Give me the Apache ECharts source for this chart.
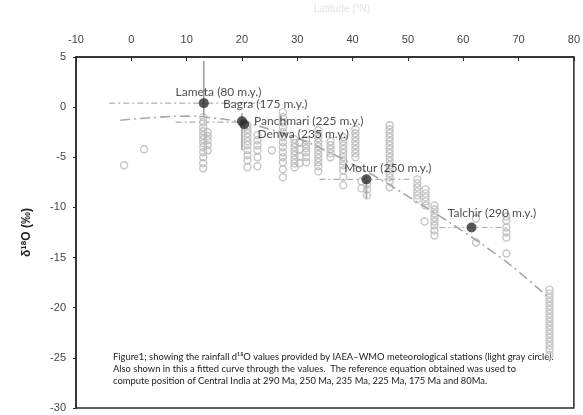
<!DOCTYPE html>
<html><head><meta charset="utf-8">
<script src="https://cdn.jsdelivr.net/npm/echarts@6/dist/echarts.min.js"></script>
<style>html,body{margin:0;padding:0;background:#fff}#c{width:583px;height:415px}</style>
</head><body><div id="c"></div>
<script>
// x-axis ticks (top axis) and y-axis ticks
const xTicks = [-10, 0, 10, 20, 30, 40, 50, 60, 70, 80];
const yTicks = [5, 0, -5, -10, -15, -20, -25, -30];

// IAEA-WMO station values (light gray circles): [x, d18O]
const stationPoints = [
  [-1.3,-5.8],[2.3,-4.2],
  [13.0,-1.0],[13.0,-1.5],[13.0,-2.0],[13.0,-2.4],[13.0,-2.8],[13.0,-3.2],[13.0,-3.6],[13.0,-4.0],[13.0,-4.5],[13.0,-5.0],[13.0,-5.6],[13.0,-6.1],
  [13.8,-2.5],[13.8,-2.9],[13.8,-3.3],[13.8,-3.8],[13.8,-4.3],
  [21.0,-1.8],[21.0,-2.2],[21.0,-2.6],[21.0,-3.0],[21.0,-3.4],[21.0,-3.8],[21.0,-4.3],[21.0,-4.8],[21.0,-5.3],[21.0,-6.0],
  [22.8,-2.8],[22.8,-3.3],[22.8,-3.8],[22.8,-4.3],[22.8,-5.0],[22.8,-5.9],
  [25.4,-4.3],
  [27.4,-0.5],[27.4,-1.0],[27.4,-1.5],[27.4,-2.0],[27.4,-2.5],[27.4,-3.0],[27.4,-3.5],[27.4,-4.0],[27.4,-4.5],[27.4,-5.0],[27.4,-5.5],[27.4,-6.2],[27.4,-7.0],
  [29.5,-3.2],[29.5,-3.6],[29.5,-4.0],[29.5,-4.4],[29.5,-4.8],[29.5,-5.2],[29.5,-5.6],[29.5,-6.0],
  [30.4,-3.5],[30.4,-4.2],[30.4,-4.9],[30.4,-5.6],
  [31.6,-3.3],[31.6,-3.7],[31.6,-4.1],[31.6,-4.5],[31.6,-5.0],[31.6,-5.5],
  [33.8,-2.3],[33.8,-2.7],[33.8,-3.1],[33.8,-3.5],[33.8,-3.9],[33.8,-4.3],[33.8,-4.7],[33.8,-5.1],[33.8,-5.5],[33.8,-5.9],[33.8,-6.4],
  [36.0,-3.4],[36.0,-3.8],[36.0,-4.2],[36.0,-4.6],[36.0,-5.0],
  [38.3,-3.0],[38.3,-3.4],[38.3,-3.8],[38.3,-4.2],[38.3,-4.6],[38.3,-5.0],[38.3,-5.4],[38.3,-5.8],[38.3,-6.3],[38.3,-7.0],[38.3,-7.8],
  [40.5,-2.2],[40.5,-2.6],[40.5,-3.0],[40.5,-3.4],[40.5,-3.8],[40.5,-4.2],[40.5,-4.6],[40.5,-5.0],
  [41.6,-7.4],[41.6,-8.1],
  [42.6,-7.7],[42.6,-8.2],[42.6,-8.8],
  [46.7,-1.8],[46.7,-2.2],[46.7,-2.6],[46.7,-3.0],[46.7,-3.4],[46.7,-3.8],[46.7,-4.2],[46.7,-4.6],[46.7,-5.0],[46.7,-5.4],[46.7,-5.8],[46.7,-6.2],[46.7,-6.6],[46.7,-7.0],[46.7,-7.4],[46.7,-8.0],
  [51.7,-7.2],[51.7,-7.6],[51.7,-8.0],[51.7,-8.4],[51.7,-8.8],[51.7,-9.2],
  [53.2,-8.2],[53.2,-8.6],[53.2,-9.0],[53.2,-9.4],[53.2,-9.8],
  [53.0,-11.4],
  [54.8,-9.8],[54.8,-10.2],[54.8,-10.6],[54.8,-11.0],[54.8,-11.4],[54.8,-11.8],[54.8,-12.3],[54.8,-12.8],
  [62.3,-11.1],[62.3,-13.5],
  [67.8,-10.9],[67.8,-11.3],[67.8,-12.0],[67.8,-12.5],[67.8,-13.0],[67.8,-14.6],
  [75.6,-18.2],[75.6,-18.6],[75.6,-19.0],[75.6,-19.4],[75.6,-19.8],[75.6,-20.2],[75.6,-20.6],[75.6,-21.0],[75.6,-21.4],[75.6,-21.8],[75.6,-22.2],[75.6,-22.6],[75.6,-23.0],[75.6,-23.4],[75.6,-23.8],[75.6,-24.2],[75.6,-24.7]
];

// fitted curve through the values
const fitX = [-2, 5, 10, 15, 20, 25, 30, 35, 40, 45, 50, 55, 60, 65, 70, 75];
const fitY = [-1.3, -1.0, -0.9, -1.1, -1.5, -2.2, -3.1, -4.3, -5.7, -7.2, -8.9, -10.6, -12.4, -14.3, -16.4, -18.8];

// computed positions of Central India
const siteNames = ['Lameta', 'Bagra', 'Panchmari', 'Motur', 'Talchir'];
const siteX = [13.1, 20.0, 20.4, 42.5, 61.5];
const siteY = [0.4, -1.4, -1.7, -7.2, -12.0];

// horizontal and vertical error ranges
const hBars = [[-4, 24, 0.4], [8, 20, -1.5], [34, 50.3, -7.2], [55.7, 68.3, -12.0]];
const vBars = [[13.1, 4.6, -1.0], [20.0, -0.6, -4.3], [42.5, -6.8, -9.1]];

// text labels
const labelX = [7.9, 16.5, 22.1, 22.7, 38.4, 57.1];
const labelY = [1.5, 0.3, -1.4, -2.7, -6.1, -10.55];
const labelText = ['Lameta (80 m.y.)', 'Bagra (175 m.y.)', 'Panchmari (225 m.y.)', 'Denwa (235 m.y.)', 'Motur (250 m.y.)', 'Talchir (290 m.y.)'];

const captionLines = [
  'Figure1; showing the rainfall d\u00B9\u2078O values provided by IAEA\u2013WMO meteorological stations (light gray circle).',
  'Also shown in this a fitted curve through the values.  The reference equation obtained was used to',
  'compute position of Central India at 290 Ma, 250 Ma, 235 Ma, 225 Ma, 175 Ma and 80Ma.'
];

const chart = echarts.init(document.getElementById('c'), null, {renderer: 'canvas'});
const series = [];
series.push({
  type: 'scatter', data: stationPoints, symbol: 'circle', symbolSize: 7,
  itemStyle: {color: 'rgba(255,255,255,0)', borderColor: '#b8b8b8', borderWidth: 1.4},
  z: 2, silent: true
});
series.push({
  type: 'line', data: fitX.map((x, i) => [x, fitY[i]]), smooth: true, showSymbol: false,
  lineStyle: {color: '#a8a8a8', width: 1.6, type: [10, 4, 2, 4]}, z: 3, silent: true
});
hBars.forEach(b => series.push({
  type: 'line', data: [[b[0], b[2]], [b[1], b[2]]], showSymbol: false,
  lineStyle: {color: '#b0b0b0', width: 1.2, type: [6, 3, 2, 3]}, z: 3, silent: true
}));
vBars.forEach(b => series.push({
  type: 'line', data: [[b[0], b[1]], [b[0], b[2]]], showSymbol: false,
  lineStyle: {color: '#a0a0a0', width: 1.6}, z: 3, silent: true
}));
series.push({
  type: 'scatter', data: siteX.map((x, i) => ({name: siteNames[i], value: [x, siteY[i]]})),
  symbolSize: 10, itemStyle: {color: '#303030'}, z: 5, silent: true
});
series.push({
  type: 'scatter', data: labelX.map((x, i) => ({name: labelText[i], value: [x, labelY[i]]})),
  symbolSize: 1, itemStyle: {color: 'rgba(0,0,0,0)'}, z: 6, silent: true,
  label: {show: true, position: 'right', distance: 0, formatter: p => p.name,
    fontFamily: 'Lato', fontSize: 12, color: '#222'}
});

chart.setOption({
  animation: false,
  backgroundColor: '#fff',
  grid: {left: 76, right: 8, top: 57, bottom: 7, show: true, borderColor: '#2a2a2a', borderWidth: 1.5},
  xAxis: {
    type: 'value', position: 'top', min: xTicks[0], max: xTicks[xTicks.length - 1], interval: 10,
    axisLine: {show: true, onZero: false, lineStyle: {color: '#2a2a2a', width: 1.5}},
    axisTick: {show: true, inside: true, length: 4, lineStyle: {color: '#2a2a2a'}},
    axisLabel: {fontFamily: 'Liberation Sans', fontSize: 11, color: '#444', margin: 12},
    splitLine: {show: false}
  },
  yAxis: {
    type: 'value', min: yTicks[yTicks.length - 1], max: yTicks[0], interval: 5,
    name: '{d|\u03B4}{s|18}{d|O (\u2030)}', nameLocation: 'middle', nameGap: 42, nameRotate: 90,
    nameTextStyle: {rich: {
      d: {fontFamily: 'Liberation Sans', fontSize: 12, fontWeight: 'bold', color: '#222'},
      s: {fontFamily: 'Liberation Sans', fontSize: 8, fontWeight: 'bold', color: '#222', verticalAlign: 'top', padding: [0, 0, 6, 0]}
    }},
    axisLine: {show: true, onZero: false, lineStyle: {color: '#2a2a2a', width: 1.5}},
    axisTick: {show: true, inside: false, length: 3, lineStyle: {color: '#2a2a2a'}},
    axisLabel: {fontFamily: 'Liberation Sans', fontSize: 11, color: '#444', margin: 10},
    splitLine: {show: false}
  },
  graphic: [
    {type: 'text', x: 342, y: 14, style: {text: 'Latitude (\u00B0N)', textAlign: 'center', textVerticalAlign: 'bottom',
      fontFamily: 'Liberation Sans', fontSize: 10, fill: '#e4e4e4'}},
    {type: 'text', x: 113, y: 351, style: {text: captionLines.join('\n'), fontFamily: 'Lato', fontSize: 9.4,
      lineHeight: 12, fill: '#222'}}
  ],
  series: series
});
</script></body></html>
